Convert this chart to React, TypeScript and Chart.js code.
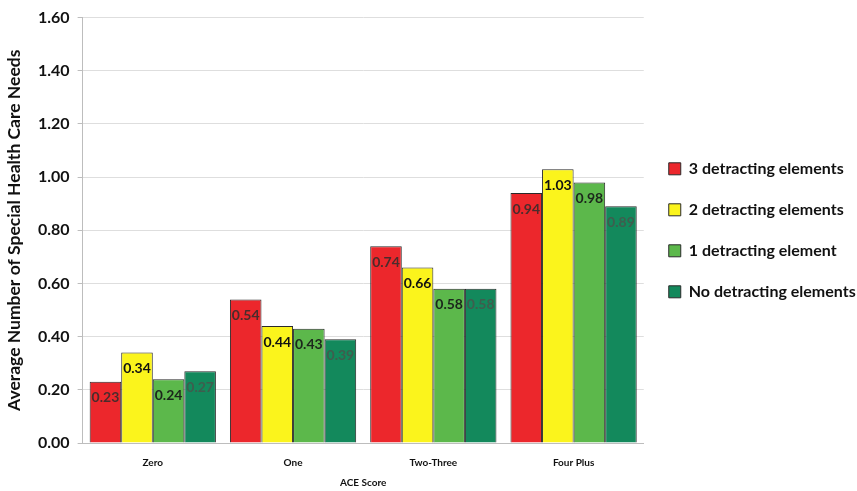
import React, { useEffect, useRef } from "react";
import { Chart, registerables } from "chart.js";

Chart.register(...registerables);

const categories = ["Zero", "One", "Two-Three", "Four Plus"];
const seriesNames = [
  "3 detracting elements",
  "2 detracting elements",
  "1 detracting element",
  "No detracting elements",
];
const threeDetracting = [0.23, 0.54, 0.74, 0.94];
const twoDetracting = [0.34, 0.44, 0.66, 1.03];
const oneDetracting = [0.24, 0.43, 0.58, 0.98];
const noDetracting = [0.27, 0.39, 0.58, 0.89];
const yTicks = [0, 0.2, 0.4, 0.6, 0.8, 1.0, 1.2, 1.4, 1.6];

const fills = ["#ec272c", "#fbf41c", "#5cb84b", "#13895c"];
const labelColors = ["#4a2c2c", "#111111", "#1c261c", "#3f5d4e"];

const FONT = "Lato, 'Open Sans', sans-serif";

// Writes each bar's value just inside its top edge.
const valueLabels = {
  id: "valueLabels",
  afterDatasetsDraw(chart: any) {
    const ctx = chart.ctx;
    ctx.save();
    ctx.font = `bold 14px ${FONT}`;
    ctx.textAlign = "center";
    ctx.textBaseline = "middle";
    chart.data.datasets.forEach((ds: any, di: number) => {
      const meta = chart.getDatasetMeta(di);
      meta.data.forEach((bar: any, i: number) => {
        ctx.fillStyle = labelColors[di];
        ctx.fillText(ds.data[i].toFixed(2), bar.x, bar.y + 16);
      });
    });
    ctx.restore();
  },
};

export default function App() {
  const ref = useRef<HTMLCanvasElement>(null);

  useEffect(() => {
    if (!ref.current) return;
    const values = [threeDetracting, twoDetracting, oneDetracting, noDetracting];
    const chart = new Chart(ref.current, {
      type: "bar",
      data: {
        labels: categories,
        datasets: values.map((v, i) => ({
          label: seriesNames[i],
          data: v,
          backgroundColor: fills[i],
          borderColor: "#2a2a2a",
          borderWidth: 1,
          barPercentage: 1,
          categoryPercentage: 0.9,
        })),
      },
      options: {
        animation: false,
        responsive: true,
        maintainAspectRatio: false,
        layout: { padding: { top: 10, right: 0, bottom: 2, left: 4 } },
        plugins: {
          tooltip: { enabled: false },
          legend: {
            position: "right",
            fullSize: false,
            labels: {
              boxWidth: 12,
              boxHeight: 12,
              padding: 25,
              color: "#111",
              font: { family: FONT, size: 16, weight: "bold" },
            },
          },
        },
        scales: {
          x: {
            grid: { display: false },
            border: { color: "#bdbdbd" },
            ticks: { color: "#111", font: { family: FONT, size: 10, weight: "bold" }, padding: 6 },
            title: {
              display: true,
              text: "ACE Score",
              color: "#111",
              font: { family: FONT, size: 10, weight: "bold" },
              padding: { top: 2, bottom: 0 },
            },
          },
          y: {
            min: 0,
            max: 1.6,
            afterBuildTicks: (axis: any) => {
              axis.ticks = yTicks.map((v) => ({ value: v }));
            },
            grid: { color: "#dedede", tickLength: 5, tickColor: "#bdbdbd" },
            border: { color: "#bdbdbd" },
            ticks: {
              color: "#111",
              padding: 8,
              font: { family: FONT, size: 16, weight: "bold" },
              callback: (v: any) => Number(v).toFixed(2),
            },
            title: {
              display: true,
              text: "Average Number of Special Health Care Needs",
              color: "#111",
              font: { family: FONT, size: 17.5, weight: "bold" },
              padding: { top: 0, bottom: 5 },
            },
          },
        },
      },
      plugins: [valueLabels],
    });
    return () => chart.destroy();
  }, []);

  return (
    <div style={{ position: "fixed", left: 0, top: 0, width: 857, height: 491, background: "#fff" }}>
      <canvas ref={ref} />
    </div>
  );
}
